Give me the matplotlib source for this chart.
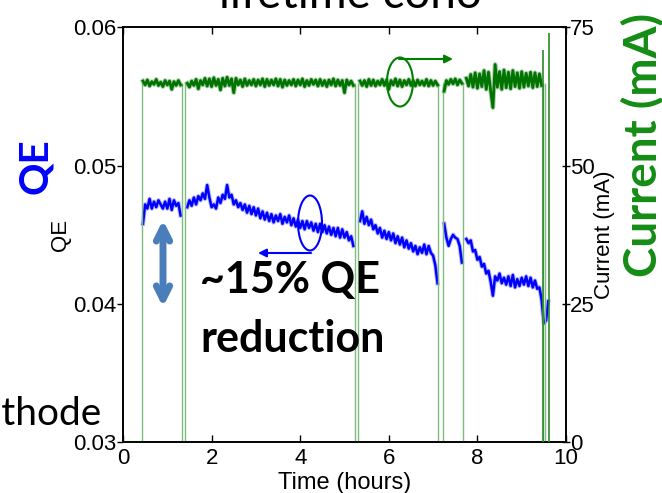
import numpy as np
import matplotlib
matplotlib.use('Agg')
import matplotlib.pyplot as plt
from matplotlib.patches import Ellipse
from matplotlib.ticker import FormatStrFormatter

# ---------------- data ----------------
t_start = 0.45      # hours, first sample
t_step = 0.05       # hours between samples

qe_pct = [
    4.58, 4.72, 4.69, 4.76, 4.69, 4.74, 4.70, 4.75, 4.72, 4.69,
    4.74, 4.69, 4.76, 4.68, 4.75, 4.71, 4.73, 4.64, np.nan, np.nan,
    4.70, 4.75, 4.71, 4.77, 4.72, 4.78, 4.75, 4.80, 4.76, 4.86,
    4.77, 4.70, 4.72, 4.69, 4.77, 4.73, 4.79, 4.76, 4.86, 4.77,
    4.79, 4.72, 4.75, 4.70, 4.73, 4.68, 4.72, 4.66, 4.71, 4.65,
    4.70, 4.64, 4.69, 4.62, 4.67, 4.61, 4.66, 4.60, 4.65, 4.59,
    4.64, 4.60, 4.65, 4.58, 4.63, 4.59, 4.64, 4.57, 4.62, 4.56,
    4.61, 4.55, 4.60, 4.54, 4.60, 4.55, 4.59, 4.53, 4.58, 4.52,
    4.58, 4.52, 4.57, 4.51, 4.56, 4.50, 4.55, 4.49, 4.55, 4.48,
    4.54, 4.48, 4.52, 4.46, 4.49, 4.42, np.nan, np.nan, 4.60, 4.67,
    4.58, 4.63, 4.57, 4.61, 4.54, 4.57, 4.51, 4.55, 4.48, 4.53,
    4.47, 4.52, 4.46, 4.51, 4.44, 4.49, 4.43, 4.48, 4.41, 4.46,
    4.40, 4.44, 4.38, 4.42, 4.36, 4.41, 4.37, 4.43, 4.36, 4.42,
    4.37, 4.35, 4.28, 4.15, np.nan, np.nan, 4.58, 4.48, 4.42, 4.47,
    4.50, 4.48, 4.47, 4.42, 4.30, np.nan, 4.47, 4.44, 4.46, 4.38,
    4.39, 4.32, 4.34, 4.27, 4.29, 4.22, 4.24, 4.16, 4.06, 4.20,
    4.17, 4.22, 4.15, 4.19, 4.14, 4.20, 4.13, 4.21, 4.12, 4.18,
    4.13, 4.19, 4.14, 4.20, 4.13, 4.19, 4.12, 4.17, 4.11, 4.12,
    4.03, 3.86, 3.88, 4.02,
]

current_ma = [
    65.3, 64.6, 65.5, 64.4, 65.2, 64.7, 65.6, 64.5, 65.1, 64.3,
    65.4, 64.6, 65.3, 63.8, 65.2, 64.5, 65.4, 64.6, np.nan, np.nan,
    64.9, 64.2, 65.3, 64.5, 65.6, 63.9, 65.4, 64.6, 65.8, 64.4,
    65.7, 64.3, 65.9, 64.5, 65.6, 63.7, 65.8, 64.4, 66.0, 64.5,
    65.7, 63.2, 65.8, 64.6, 65.5, 64.3, 65.7, 64.5, 65.4, 64.6,
    65.6, 64.4, 65.5, 64.6, 65.7, 64.3, 65.6, 64.5, 65.5, 64.6,
    65.7, 64.4, 65.6, 64.2, 65.5, 64.5, 65.4, 64.6, 65.6, 64.4,
    65.5, 64.6, 65.7, 64.3, 65.4, 64.5, 65.6, 64.7, 65.5, 64.4,
    65.6, 64.5, 65.4, 64.3, 65.5, 64.6, 65.7, 64.4, 65.5, 64.5,
    65.4, 63.2, 65.5, 64.6, 65.3, 64.5, np.nan, np.nan, 65.3, 64.5,
    65.4, 64.3, 65.6, 64.5, 65.5, 64.4, 65.3, 64.6, 65.6, 64.5,
    65.5, 63.8, 65.4, 64.6, 65.7, 64.4, 65.5, 64.3, 65.4, 64.6,
    65.6, 64.5, 65.4, 64.4, 65.5, 64.6, 65.3, 64.5, 65.6, 64.4,
    65.4, 64.5, 65.3, 64.6, np.nan, np.nan, 63.5, 65.4, 64.7, 65.6,
    64.8, 65.7, 64.6, 65.5, 64.9, np.nan, 65.8, 64.4, 66.5, 64.2,
    66.8, 64.0, 66.6, 64.3, 67.2, 63.8, 66.9, 63.5, 60.5, 68.3,
    64.2, 67.0, 63.8, 67.3, 64.1, 66.9, 63.9, 67.2, 64.3, 66.8,
    64.0, 67.0, 64.2, 66.7, 64.4, 66.9, 64.1, 66.8, 64.3, 66.6,
    64.5, np.nan, np.nan, np.nan,
]

trip_hours = [0.42, 1.34, 1.41, 5.24, 5.31, 7.11, 7.22, 7.68, 9.47, 9.52]
trip_level_ma = 65
spike_hours = [9.48, 9.62]
spike_ma = [71, 74]
off_hours = [0.0, 0.42]
off_ma = [0, 0]

x_ticks = [0, 2, 4, 6, 8, 10]
qe_ticks = [0.03, 0.04, 0.05, 0.06]
cur_ticks = [0, 25, 50, 75]

# ---------------- figure ----------------
plt.rcParams['font.family'] = ['Liberation Sans', 'DejaVu Sans']
W, H = 662, 493
fig = plt.figure(figsize=(W / 100, H / 100), dpi=100)

def fx(x):
    return x / W

def fy(y):
    return 1 - y / H

left_px, right_px, top_px, bot_px = 123, 566, 27.4, 442.3
ax = fig.add_axes([fx(left_px), fy(bot_px), (right_px - left_px) / W, (bot_px - top_px) / H])

hours = t_start + t_step * np.arange(len(qe_pct))
qe = np.array(qe_pct) / 100.0

ax.plot(hours, qe, color='#3a3aff', lw=3.2, alpha=0.35, zorder=2)
ax.plot(hours, qe, color='#0000ff', lw=1.8, zorder=2)
ax.set_xlim(0, 10)
ax.set_ylim(0.03, 0.06)
ax.set_xticks(x_ticks)
ax.set_yticks(qe_ticks)
ax.yaxis.set_major_formatter(FormatStrFormatter('%.2f'))
ax.tick_params(axis='x', direction='in', length=5, width=1, labelsize=16, pad=4, top=True)
ax.tick_params(axis='y', direction='out', length=4, width=1, labelsize=16, pad=1)
ax.set_xlabel('Time (hours)', fontsize=17, labelpad=2)
ax.set_ylabel('QE', fontsize=16, labelpad=1)

ax2 = ax.twinx()
ax2.vlines(trip_hours, 0, trip_level_ma, color='#80bc80', lw=1.0, zorder=2)
ax2.plot(hours, current_ma, color='#2f8f2f', lw=3.4, alpha=0.4, zorder=3)
ax2.plot(hours, current_ma, color='#007300', lw=2.0, zorder=3)
ax2.vlines(spike_hours, 0, spike_ma, color='#2a8a2a', lw=1.2, zorder=3)
ax2.plot(off_hours, off_ma, color='#007a00', lw=1.5)
ax2.set_ylim(0, 75)
ax2.set_yticks(cur_ticks)
ax2.tick_params(axis='y', direction='inout', length=6, width=1, labelsize=16, pad=0)
ax2.set_ylabel('Current (mA)', fontsize=16, labelpad=-1)

for a in (ax, ax2):
    for s in a.spines.values():
        s.set_linewidth(1.2)

# ---------------- slide annotations ----------------
fig.text(fx(350), fy(8), 'lifetime coho', fontsize=33, family='Lato',
         ha='center', va='baseline', color='black')
fig.text(fx(101), fy(425), 'Cathode', fontsize=28, family='Lato',
         ha='right', va='baseline', color='black')
fig.text(fx(36), fy(166), 'QE', fontsize=29, family='Lato', weight='bold',
         color='#0000ff', rotation=90, ha='center', va='center')
fig.text(fx(643), fy(145), 'Current (mA)', fontsize=33, family='Lato', weight='bold',
         color='#148c14', rotation=90, ha='center', va='center')
fig.text(fx(200), fy(293), '~15% QE', fontsize=31, family='Lato', weight='bold',
         ha='left', va='baseline', color='black')
fig.text(fx(200), fy(352), 'reduction', fontsize=31, family='Lato', weight='bold',
         ha='left', va='baseline', color='black')

# ellipses marking which trace goes with which axis
fig.add_artist(Ellipse((fx(310), fy(223)), 24 / W, 55 / H, transform=fig.transFigure,
                       fill=False, edgecolor='#0000ff', lw=1.5))
fig.add_artist(Ellipse((fx(400), fy(82)), 26 / W, 49 / H, transform=fig.transFigure,
                       fill=False, edgecolor='#008000', lw=1.5))

fig_px = lambda x, y: (x, H - y)
ax.annotate('', xy=fig_px(258, 253), xytext=fig_px(311, 253), xycoords='figure pixels',
            textcoords='figure pixels',
            arrowprops=dict(arrowstyle='-|>', color='#0000ff', lw=1.5, mutation_scale=12,
                            shrinkA=0, shrinkB=0))
ax.annotate('', xy=fig_px(453, 59), xytext=fig_px(399, 59), xycoords='figure pixels',
            textcoords='figure pixels',
            arrowprops=dict(arrowstyle='-|>', color='#008000', lw=1.5, mutation_scale=12,
                            shrinkA=0, shrinkB=0), annotation_clip=False)
ax.annotate('', xy=fig_px(163, 220), xytext=fig_px(163, 307), xycoords='figure pixels',
            textcoords='figure pixels',
            arrowprops=dict(arrowstyle='<->', color='#4a7ebb', lw=5, mutation_scale=24,
                            shrinkA=0, shrinkB=0), annotation_clip=False)

fig.savefig('out.png', dpi=100)
